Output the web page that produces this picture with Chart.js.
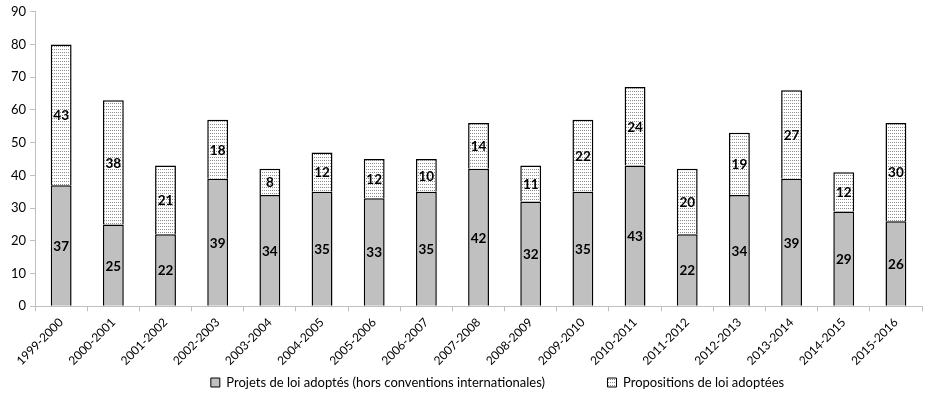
<!DOCTYPE html>
<html>
<head>
<meta charset="utf-8">
<script src="https://cdn.jsdelivr.net/npm/chart.js@4/dist/chart.umd.min.js"></script>
<style>
  html, body { margin: 0; padding: 0; background: #fff; }
  #wrap { width: 937px; height: 407px; }
</style>
</head>
<body>
<div id="wrap"><canvas id="lawChart"></canvas></div>
<script>
const sessions = ['1999-2000', '2000-2001', '2001-2002', '2002-2003', '2003-2004', '2004-2005', '2005-2006',
  '2006-2007', '2007-2008', '2008-2009', '2009-2010', '2010-2011', '2011-2012', '2012-2013', '2013-2014',
  '2014-2015', '2015-2016'];
const projets = [37, 25, 22, 39, 34, 35, 33, 35, 42, 32, 35, 43, 22, 34, 39, 29, 26];
const propositions = [43, 38, 21, 18, 8, 12, 12, 10, 14, 11, 22, 24, 20, 19, 27, 12, 30];
const yTicks = [0, 10, 20, 30, 40, 50, 60, 70, 80, 90];

const fontFamily = "Lato, 'Liberation Sans', sans-serif";

// dotted fill for the propositions series
function dotPattern() {
  const c = document.createElement('canvas');
  c.width = 2; c.height = 3;
  const g = c.getContext('2d');
  g.fillStyle = '#ffffff';
  g.fillRect(0, 0, 2, 3);
  g.fillStyle = '#8c8c8c';
  g.fillRect(0, 1, 1, 1);
  return g.createPattern(c, 'repeat');
}

// values written in the middle of each segment
const segmentLabels = {
  id: 'segmentLabels',
  afterDatasetsDraw(chart) {
    const ctx = chart.ctx;
    ctx.save();
    ctx.font = 'bold 13.5px ' + fontFamily;
    ctx.fillStyle = '#000';
    ctx.textAlign = 'center';
    ctx.textBaseline = 'middle';
    chart.data.datasets.forEach((ds, i) => {
      chart.getDatasetMeta(i).data.forEach((bar, j) => {
        const mid = (bar.y + bar.base) / 2;
        ctx.fillText(ds.data[j], bar.x, mid + 1);
      });
    });
    ctx.restore();
  }
};

// legend sits a bit right of centre in the original
const legendShift = {
  id: 'legendShift',
  afterLayout(chart) {
    chart.legend.left += 33;
    chart.legend.right += 33;
  }
};

new Chart(document.getElementById('lawChart'), {
  type: 'bar',
  data: {
    labels: sessions,
    datasets: [{
      label: 'Projets de loi adoptés (hors conventions internationales)',
      data: projets,
      backgroundColor: '#c0c0c0',
      borderColor: '#000',
      borderWidth: 1.5,
      barPercentage: 0.4,
      categoryPercentage: 1
    }, {
      label: 'Propositions de loi adoptées',
      data: propositions,
      backgroundColor: dotPattern(),
      borderColor: '#000',
      borderWidth: 1.5,
      barPercentage: 0.4,
      categoryPercentage: 1
    }]
  },
  options: {
    responsive: true,
    maintainAspectRatio: false,
    animation: false,
    layout: { padding: { top: 11, right: 15, left: 7, bottom: 8 } },
    scales: {
      x: {
        stacked: true,
        offset: true,
        border: { color: '#bfbfbf', width: 1 },
        grid: { offset: true, drawOnChartArea: false, drawTicks: true, tickLength: 5, color: '#bfbfbf' },
        ticks: { color: '#000', font: { size: 12, family: fontFamily }, maxRotation: 45, minRotation: 45, padding: 4 }
      },
      y: {
        stacked: true,
        min: 0,
        max: 90,
        afterBuildTicks(axis) { axis.ticks = yTicks.map(v => ({ value: v })); },
        border: { color: '#bfbfbf', width: 1 },
        grid: { drawOnChartArea: false, drawTicks: true, tickLength: 5, color: '#bfbfbf' },
        ticks: { color: '#000', font: { size: 13, family: fontFamily }, padding: 4 }
      }
    },
    plugins: {
      legend: {
        position: 'bottom',
        labels: {
          color: '#000',
          font: { size: 13, family: fontFamily },
          boxWidth: 9,
          boxHeight: 9,
          padding: 4,
          generateLabels(chart) {
            const items = Chart.defaults.plugins.legend.labels.generateLabels(chart);
            items.forEach((it, i) => {
              it.lineWidth = 1;
              if (i === 0) it.text = it.text + '\u2003\u2003\u2003\u2003\u2003\u2003';
            });
            return items;
          }
        }
      },
      tooltip: { enabled: false }
    }
  },
  plugins: [segmentLabels, legendShift]
});
</script>
</body>
</html>
